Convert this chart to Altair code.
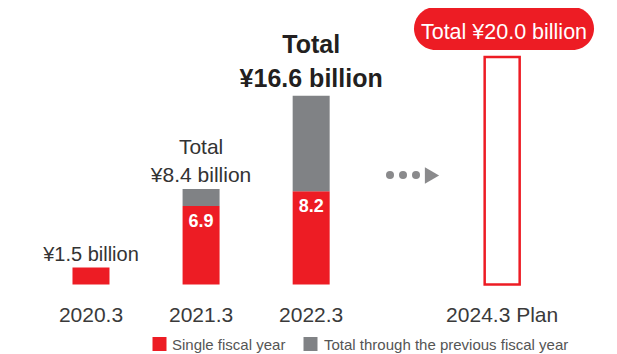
import altair as alt
import pandas as pd

# ---------------- data ----------------
categories = ["2020.3", "2021.3", "2022.3", "2024.3 Plan"]
single_year = [1.5, 6.9, 8.2, None]          # red: single fiscal year
prev_total = [0.0, 1.5, 8.4, None]           # gray: total through previous fiscal year
totals = [1.5, 8.4, 16.6, 20.0]
total_labels = ["¥1.5 billion", "¥8.4 billion", "¥16.6 billion", "Total ¥20.0 billion"]
legend_labels = ["Single fiscal year", "Total through the previous fiscal year"]

# ---------------- layout / style ----------------
SLOTS = [0, 1, 2, 3.735]         # column positions (plan column sits after the arrow)
RED = "#ED1C24"
GRAY = "#808285"
ARROW = "#8A8A8C"
FONT = "Liberation Sans"
W, H = 601, 346

df = pd.DataFrame({
    "cat": categories, "slot": SLOTS, "single": single_year,
    "prev": prev_total, "total": totals, "label": total_labels,
})

xs = alt.X("slot:Q", scale=alt.Scale(domain=[-0.7084, 4.660], nice=False, zero=False), axis=None)
ysc = alt.Scale(domain=[-6.113, 24.318], nice=False, zero=False)

base = alt.Chart(df)

red = base.transform_filter("isValid(datum.single)").mark_bar(size=37, color=RED).encode(
    x=xs, y=alt.Y("single:Q", scale=ysc, axis=None), y2=alt.datum(0))

gray = base.transform_filter("datum.prev > 0").mark_bar(size=37, color=GRAY).encode(
    x=xs, y=alt.Y("single:Q", scale=ysc, axis=None), y2="total:Q")

plan = base.transform_filter("datum.cat == '2024.3 Plan'").mark_bar(
    size=35, fill="white", stroke=RED, strokeWidth=2.5).encode(
    x=xs, y=alt.Y("total:Q", scale=ysc, axis=None), y2=alt.datum(0))

vals = base.transform_filter("datum.prev > 0").mark_text(
    baseline="top", dy=7, color="white", fontWeight="bold", fontSize=18, font=FONT).encode(
    x=xs, y=alt.Y("single:Q", scale=ysc, axis=None), text=alt.Text("single:Q", format=".1f"))

years = base.mark_text(fontSize=21, color="#3a3a3a", font=FONT, baseline="alphabetic").encode(
    x=xs, y=alt.value(313.7), text="cat:N")

def ann(cat, dy, size, weight, color, text=None):
    enc = dict(x=xs, y=alt.Y("total:Q", scale=ysc, axis=None))
    enc["text"] = alt.value(text) if text is not None else alt.Text("label:N")
    return base.transform_filter(f"datum.cat == '{cat}'").mark_text(
        dy=dy, fontSize=size, fontWeight=weight, color=color, font=FONT,
        baseline="alphabetic").encode(**enc)

a2020 = ann("2020.3", -6, 20, "normal", "#333333")
a2021a = ann("2021.3", -34.7, 21, "normal", "#333333", "Total")
a2021b = ann("2021.3", -7, 21, "normal", "#333333")
a2022a = ann("2022.3", -42.4, 25, "bold", "#231F20", "Total")
a2022b = ann("2022.3", -9, 25, "bold", "#231F20")

one = pd.DataFrame({"k": [0]})
pill = alt.Chart(one).mark_rect(cornerRadius=21.5, color=RED).encode(
    x=alt.value(406), x2=alt.value(586), y=alt.value(-1), y2=alt.value(42))

pill_text = base.transform_filter("datum.cat == '2024.3 Plan'").mark_text(
    font=FONT, fontSize=21.5, color="white", dy=-18.5, baseline="alphabetic").encode(
    x=alt.value(496), y=alt.Y("total:Q", scale=ysc, axis=None), text="label:N")

layers = [pill, red, gray, plan, vals, years, a2020, a2021a, a2021b, a2022a, a2022b, pill_text]

for px in [382, 395, 408]:
    layers.append(alt.Chart(one).mark_point(shape="circle", filled=True, size=64, color=ARROW, opacity=1).encode(
        x=alt.value(px), y=alt.value(167)))
layers.append(alt.Chart(one).mark_point(shape="triangle-right", filled=True, size=270, color=ARROW, opacity=1).encode(
    x=alt.value(424), y=alt.value(167.5)))

for sq_x, tx_x, col, lab in [(151.5, 164, RED, legend_labels[0]), (302.5, 316, GRAY, legend_labels[1])]:
    layers.append(alt.Chart(one).mark_point(shape="square", filled=True, size=196, color=col, opacity=1).encode(
        x=alt.value(sq_x), y=alt.value(336)))
    layers.append(alt.Chart(one).mark_text(align="left", baseline="alphabetic", fontSize=15, color="#555555", font=FONT).encode(
        x=alt.value(tx_x), y=alt.value(341.5), text=alt.value(lab)))

chart = alt.layer(*layers).properties(
    width=W, height=H, autosize="none", padding=0
).configure_view(stroke=None)

chart.save("out.html", embed_options={"renderer": "svg", "actions": False})
